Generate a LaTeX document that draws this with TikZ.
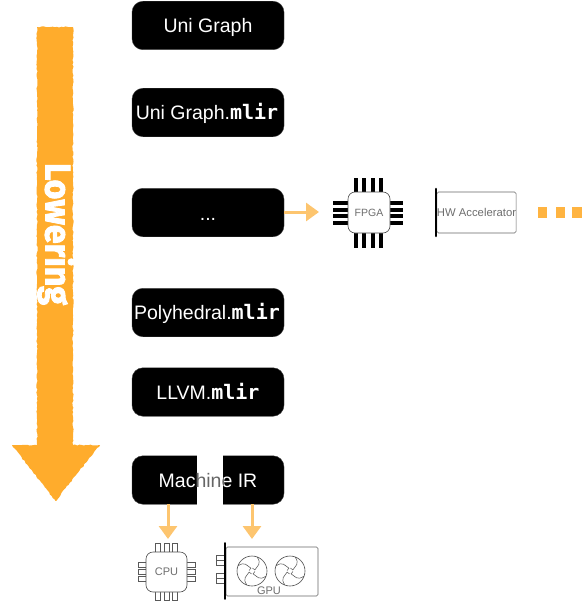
\documentclass[tikz,border=0pt]{standalone}
\usepackage{fontspec}
\usepackage{graphicx}
\setmainfont{Liberation Sans}
\newfontfamily\monob{DejaVu Sans Mono}[BoldFont={DejaVu Sans Mono Bold}]
\newfontfamily\handf{Fira Sans}[FakeBold=2.5]
\usetikzlibrary{arrows.meta,decorations.pathmorphing,calc}
\definecolor{lowerorange}{HTML}{FFAC2C}
\definecolor{flowcol}{HTML}{FDC56F}
\definecolor{chipgray}{HTML}{6E6E6E}
\newcommand{\mlirtxt}{{\monob\bfseries\fontsize{20}{22}\selectfont mlir}}
\newcommand{\lowr}[2][7.5pt]{\raisebox{-#1}[0pt][0pt]{#2}}
\tikzset{
  irbox/.style={draw=black!75,fill=black,rounded corners=11pt,minimum width=152pt,minimum height=48.5pt,inner sep=0pt,line width=.4pt,text=white,font=\fontsize{19.5}{22}\selectfont},
  flow/.style={draw=flowcol,line width=3pt,-{Triangle[length=13pt,width=18pt]}},
  chipbody/.style={draw=black!70,fill=white,rounded corners=7pt,line width=.6pt,inner sep=0pt,text=chipgray,font=\fontsize{10.5}{12}\selectfont},
  boardbody/.style={draw=black!60,fill=white,rounded corners=1.5pt,line width=.6pt,inner sep=0pt,text=chipgray},
  pinfat/.style={draw=black,line width=3.4pt},
  pinopen/.style={draw=black!65,fill=white,line width=.5pt},
  fanring/.style={draw=black!70,line width=.6pt,fill=white},
  fanblade/.style={draw=black!70,line width=.5pt},
  plank/.style={draw=black,line width=2.6pt,line cap=round},
  dotsq/.style={fill=lowerorange!90!white,draw=none},
}
\begin{document}
\begin{tikzpicture}[x=1pt,y=-1pt]
\useasboundingbox (0,0) rectangle (585,607);
% big lowering arrow
\fill[lowerorange,decorate,decoration={random steps,segment length=2.2pt,amplitude=.6pt}]
  (37,27) -- (73,27) -- (73,445) -- (100,445) -- (55.5,501) -- (12,445) -- (37,445) -- cycle;
\node[inner sep=0pt,rotate=-90,text=white] (lowering) at (56,234)
  {\resizebox*{142pt}{37pt}{\handf\bfseries Lowering}};
% IR boxes
\node[irbox] (uni)  at (208,25.5)  {\lowr{Uni Graph}};
\node[irbox] (unim) at (208,112.5) {\hspace*{-2pt}\lowr{Uni Graph.\mlirtxt}};
\node[irbox] (dots) at (208,212.5) {\lowr[8pt]{...}};
\node[irbox] (poly) at (208,312.5) {\hspace*{-2pt}\lowr[6.5pt]{Polyhedral.\mlirtxt}};
\node[irbox] (llvm) at (208,392)   {\lowr[7pt]{LLVM.\mlirtxt}};
\node[irbox] (mach) at (208,480)   {};
\fill[white] (197,450) rectangle (223,510);
\node[inner sep=0pt,text=white,font=\fontsize{19.5}{22}\selectfont] (machtxt) at (208,481) {Machine IR};
\begin{scope}
  \clip (197,450) rectangle (223,510);
  \node[inner sep=0pt,text=black!60,font=\fontsize{19.5}{22}\selectfont] at (208,481) {Machine IR};
\end{scope}
% FPGA
\foreach \x in {356,364,373,381} \draw[pinfat] (\x,178) -- (\x,248);
\foreach \y in {203,210,216,223} \draw[pinfat] (333,\y) -- (403,\y);
\node[chipbody,minimum width=42pt,minimum height=41pt] (fpga) at (369,212.5) {FPGA};
% HW accelerator
\node[boardbody,minimum width=79pt,minimum height=41pt,font=\fontsize{11.3}{12}\selectfont] (hw) at (476.5,212.5) {HW Accelerator};
\coordinate (hwtop) at (436,189);
\coordinate (hwbot) at (436,236);
\draw[plank] (hwtop) -- (hwbot);
% trailing dots
\fill[dotsq] (538,207) rectangle (547,218);
\fill[dotsq] (556,207) rectangle (565,218);
\fill[dotsq] (572,207) rectangle (582,218);
% CPU
\foreach \x in {158,167,175} {
  \draw[pinopen] (\x-2.5,543) rectangle (\x+2.5,553);
  \draw[pinopen] (\x-2.5,591) rectangle (\x+2.5,600);
}
\foreach \y in {565,572,579} {
  \draw[pinopen] (138,\y-2.5) rectangle (147,\y+2.5);
  \draw[pinopen] (186,\y-2.5) rectangle (195,\y+2.5);
}
\node[chipbody,minimum width=41pt,minimum height=40pt,font=\fontsize{11}{12}\selectfont] (cpu) at (166.5,572) {CPU};
% GPU
\draw[pinopen] (216,555) rectangle (225,560);
\draw[pinopen] (216,560) rectangle (225,565);
\draw[pinopen] (216,573) rectangle (225,578);
\draw[pinopen] (216,578) rectangle (225,583);
\node[boardbody,minimum width=92pt,minimum height=49pt] (gpu) at (272,571.5) {};
\coordinate (gputop) at (225,543);
\coordinate (gpubot) at (225,599);
\draw[plank,line width=1.6pt] (gputop) -- (gpubot);
\foreach \cx/\nm in {252/fana,290/fanb} {
  \node[fanring,circle,minimum size=30pt,inner sep=0pt] (\nm) at (\cx,571) {};
  \foreach \a in {20,110,200,290} {
    \draw[fanblade] (\cx,571) ++(\a:3pt) arc[start angle=\a, end angle=\a+60, radius=3pt];
    \draw[fanblade] ($(\cx,571)+(\a:3pt)$) .. controls ($(\cx,571)+(\a+25:8pt)$) and ($(\cx,571)+(\a+15:12pt)$) .. ($(\cx,571)+(\a+50:15pt)$);
  }
}
\node[inner sep=0pt,text=chipgray,font=\fontsize{11}{12}\selectfont,fill=white] (gpulabel) at (269,591) {GPU};
% connectors
\coordinate (fpgatip) at (319,212);
\coordinate (cputip) at (168,539);
\coordinate (gputip) at (252,539);
\draw[flow] (dots.east |- fpgatip) -- (fpgatip);
\draw[flow] (mach.south -| cputip) -- (cputip);
\draw[flow] (mach.south -| gputip) -- (gputip);
\end{tikzpicture}
\end{document}
